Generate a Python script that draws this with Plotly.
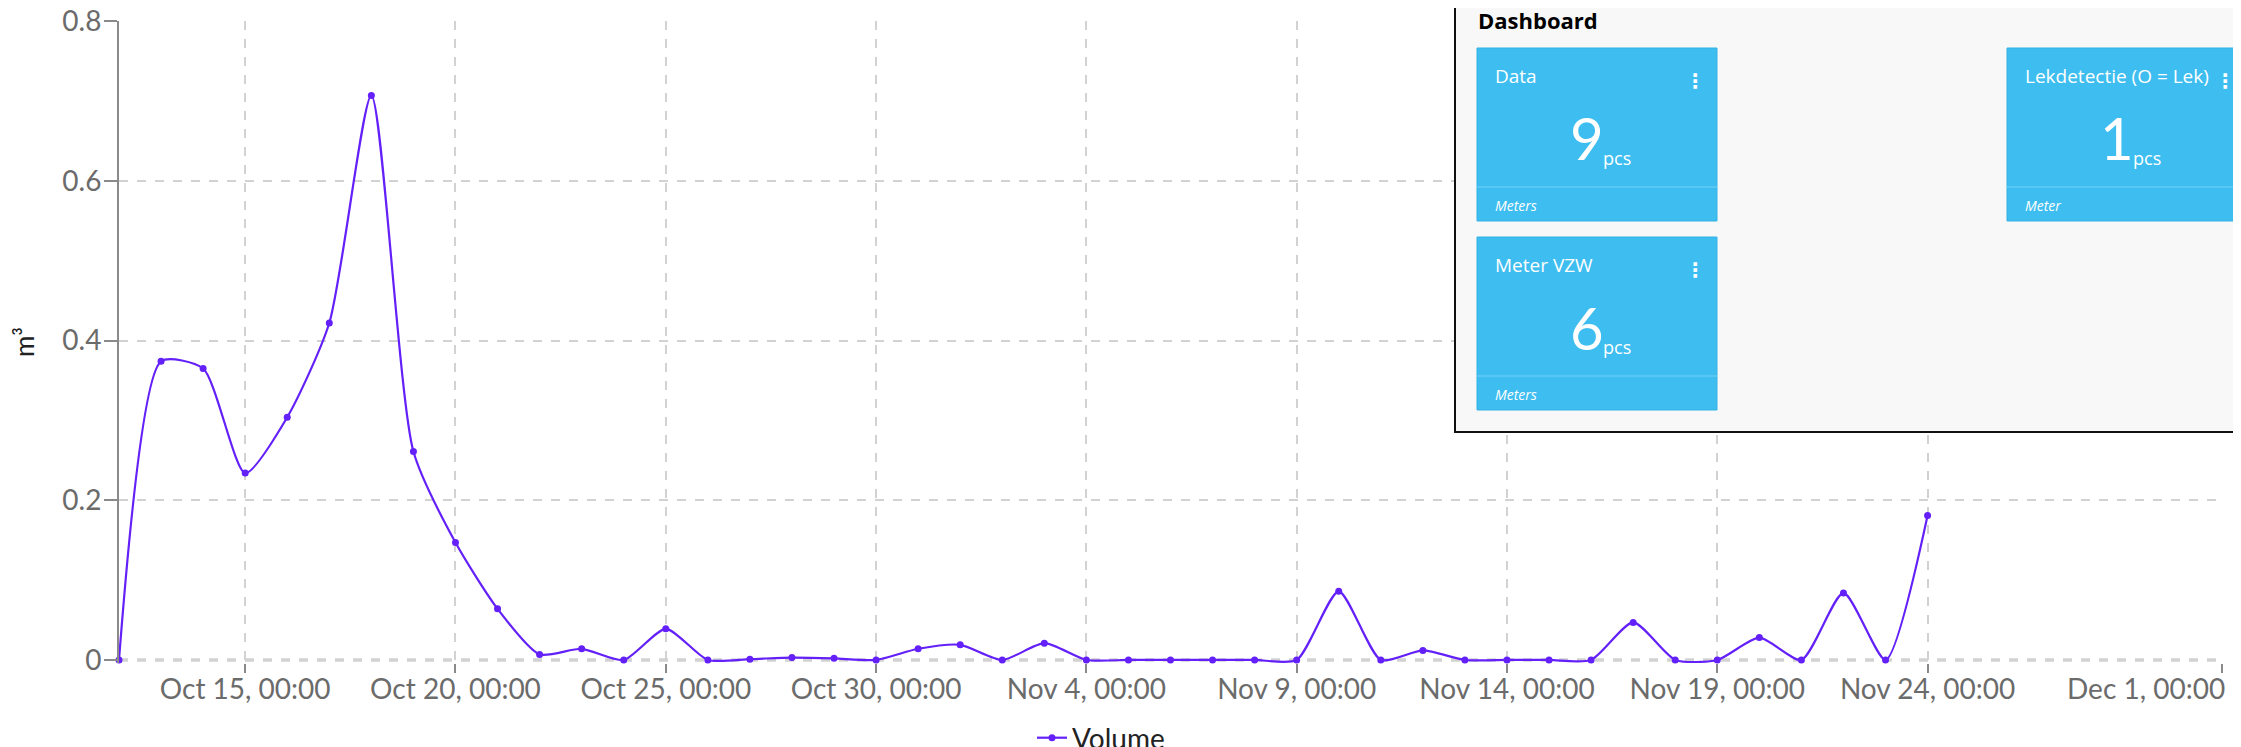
import pandas as pd
import plotly.graph_objects as go

# daily volume readings (m3), starting Oct 12
start_day = "2023-10-12"
volume = [0, 0.374, 0.365, 0.234, 0.304, 0.422, 0.707, 0.261, 0.147, 0.064,
          0.007, 0.014, 0, 0.039, 0, 0.001, 0.003, 0.002, 0, 0.014,
          0.019, 0, 0.021, 0, 0, 0, 0, 0, 0, 0.086,
          0, 0.012, 0, 0, 0, 0, 0.047, 0, 0, 0.028,
          0, 0.084, 0, 0.181]
days = pd.date_range(start_day, periods=len(volume), freq="D")

tick_dates = ["2023-10-15", "2023-10-20", "2023-10-25", "2023-10-30", "2023-11-04",
              "2023-11-09", "2023-11-14", "2023-11-19", "2023-11-24", "2023-12-01"]
tick_labels = ["Oct 15, 00:00", "Oct 20, 00:00", "Oct 25, 00:00", "Oct 30, 00:00",
               "Nov 4, 00:00", "Nov 9, 00:00", "Nov 14, 00:00", "Nov 19, 00:00",
               "Nov 24, 00:00", "Dec 1, 00:00"]
y_ticks = [0, 0.2, 0.4, 0.6, 0.8]

# dashboard widgets shown over the chart
card_titles = ["Data", "Lekdetectie (O = Lek)", "Meter VZW"]
card_values = ["9", "1", "6"]
card_footers = ["Meters", "Meter", "Meters"]

W, H = 2241, 747
OFF = 8  # page body margin
ML, MT = 111, 13
PW, PH = 2103, 642
MR, MB = W - ML - PW, H - MT - PH
YMIN, YMAX = -0.0038, 0.8002


def px(x):
    # page pixel -> paper x
    return (x - OFF - ML) / PW


def py(y):
    # page pixel -> paper y
    return (MT + PH - (y - OFF)) / PH


FONT = "Lato"
CARD_FONT = "Open Sans"
LINE = "#6420f8"
CARD = "#3dbdf0"
TICK_COLOR = "#6b6b6b"

fig = go.Figure()
fig.add_trace(go.Scatter(x=days, y=volume, mode="lines+markers", name="Volume",
                         line=dict(color=LINE, width=2.2, shape="spline", smoothing=0.65),
                         marker=dict(color=LINE, size=7),
                         cliponaxis=False))

shapes = []
annotations = []

# darker dashed base line at y=0
shapes.append(dict(type="line", xref="paper", yref="y", x0=0, x1=1, y0=0, y1=0,
                   line=dict(color="#7a7a7a", width=2.5, dash="dash"), layer="below"))

# last tick label is right-aligned to its tick in the original
annotations.append(dict(x=tick_dates[-1], xref="x", y=py(688), yref="paper",
                        text=tick_labels[-1], showarrow=False, xanchor="right",
                        yanchor="middle", xshift=5,
                        font=dict(family=FONT, size=28, color=TICK_COLOR)))

# dashboard panel
shapes.append(dict(type="rect", xref="paper", yref="paper", x0=px(1455), x1=px(2270),
                   y0=py(432), y1=py(-10), fillcolor="#f8f8f8",
                   line=dict(color="#111111", width=2), layer="above"))
annotations.append(dict(x=px(1476), y=py(20), xref="paper", yref="paper",
                        text="<b>Dashboard</b>", showarrow=False, xanchor="left",
                        yanchor="middle", font=dict(family=CARD_FONT, size=22, color="#000000")))

card_pos = [(1477, 48), (2007, 48), (1477, 237)]
for (cx, cy), title, val, foot in zip(card_pos, card_titles, card_values, card_footers):
    shapes.append(dict(type="rect", xref="paper", yref="paper", x0=px(cx), x1=px(cx + 240),
                       y0=py(cy + 173), y1=py(cy), fillcolor=CARD,
                       line=dict(color="#34b2e4", width=1), layer="above"))
    shapes.append(dict(type="line", xref="paper", yref="paper", x0=px(cx), x1=px(cx + 240),
                       y0=py(cy + 139), y1=py(cy + 139),
                       line=dict(color="#63cbf4", width=1.5), layer="above"))
    annotations.append(dict(x=px(cx + 16), y=py(cy + 28), xref="paper", yref="paper",
                            text=title, showarrow=False, xanchor="left", yanchor="middle",
                            font=dict(family=CARD_FONT, size=19, color="white")))
    annotations.append(dict(x=px(cx + 218), y=py(cy + 33), xref="paper", yref="paper",
                            text="<b>⋮</b>", showarrow=False, xanchor="center", yanchor="middle",
                            font=dict(family="DejaVu Sans", size=20, color="white")))
    annotations.append(dict(x=px(cx + 129), y=py(cy + 90), xref="paper", yref="paper",
                            text=val, showarrow=False, xanchor="right", yanchor="middle",
                            font=dict(family=FONT, size=58, color="white")))
    annotations.append(dict(x=px(cx + 124), y=py(cy + 110), xref="paper", yref="paper",
                            text="pcs", showarrow=False, xanchor="left", yanchor="middle",
                            font=dict(family=CARD_FONT, size=18, color="white")))
    annotations.append(dict(x=px(cx + 16), y=py(cy + 157), xref="paper", yref="paper",
                            text="<i>" + foot + "</i>", showarrow=False, xanchor="left",
                            yanchor="middle", font=dict(family=CARD_FONT, size=14, color="white")))

fig.update_layout(
    width=W, height=H,
    margin=dict(l=ML, r=MR, t=MT, b=MB, autoexpand=False),
    paper_bgcolor="white", plot_bgcolor="white",
    font=dict(family=FONT, color=TICK_COLOR),
    showlegend=True,
    legend=dict(orientation="h", x=px(1032), y=py(738), xanchor="left", yanchor="middle",
                font=dict(family=FONT, size=28, color="#222222"), bgcolor="rgba(0,0,0,0)"),
    shapes=shapes, annotations=annotations,
)
fig.update_xaxes(range=[days[0], tick_dates[-1]], tickvals=tick_dates,
                 ticktext=tick_labels[:-1] + [""],
                 showgrid=True, gridcolor="#d2d2d2", griddash="dash", gridwidth=1.5,
                 ticks="outside", ticklen=9, tickcolor="#8a8a8a", tickwidth=2,
                 ticklabelstandoff=-8, ticklabeloverflow="allow",
                 showline=False, zeroline=False,
                 tickfont=dict(family=FONT, size=28, color=TICK_COLOR))
fig.update_yaxes(range=[YMIN, YMAX], tickvals=y_ticks, ticktext=[f"{v:g}" for v in y_ticks],
                 showgrid=True, gridcolor="#d2d2d2", griddash="dash", gridwidth=1.5,
                 ticks="outside", ticklen=13, tickcolor="#8a8a8a", tickwidth=2,
                 ticklabelstandoff=-3, ticklabeloverflow="allow",
                 showline=True, linecolor="#8a8a8a", linewidth=2, zeroline=False,
                 tickfont=dict(family=FONT, size=28, color=TICK_COLOR),
                 title=dict(text="m³", standoff=22, font=dict(family=FONT, size=26, color="#222222")))

fig.write_html("out.html")
